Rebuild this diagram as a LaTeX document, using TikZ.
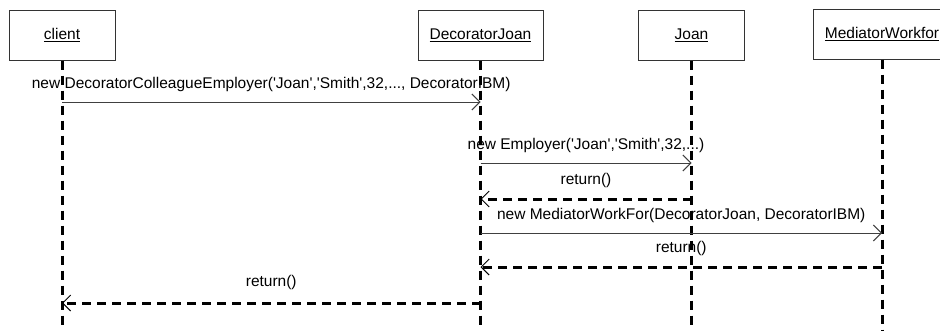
\documentclass[tikz,border=0pt]{standalone}
\usepackage{fontspec}
\setmainfont{Liberation Sans}
\usetikzlibrary{arrows.meta}
% straight apostrophe, bypassing the TeX quote mapping
\newcommand\sq{\XeTeXglyph\XeTeXcharglyph"27\relax}
\begin{document}
\begin{tikzpicture}[x=1pt,y=-1pt,
  every node/.style={font=\fontsize{15.5}{18}\selectfont},
  objbox/.style={draw=black!80, line width=1pt, minimum height=50pt,
    inner sep=0pt, fill=white},
  lifeline/.style={line width=3pt, dash pattern=on 9pt off 6pt},
  barb/.style={-{Straight Barb[length=8pt,width=16pt,line width=1pt]}},
  callmsg/.style={barb, draw=black!75, line width=1pt},
  retmsg/.style={barb, line width=3pt, dash pattern=on 9pt off 6pt},
  msglabel/.style={anchor=base, inner sep=0pt, yshift=14pt},
]
\useasboundingbox (0,0) rectangle (940,330);
\clip (0,0) rectangle (940,330);

% object boxes
\node[objbox, minimum width=106pt] (client) at (62,35)    {\underline{client}};
\node[objbox, minimum width=125pt] (dj)     at (480.5,35) {\underline{DecoratorJoan}};
\node[objbox, minimum width=106pt] (joan)   at (691.5,35) {\underline{Joan}};
\node[objbox, minimum width=138pt] (med)    at (882,34)   {\underline{MediatorWorkfor}};

% rows
\coordinate (bottom) at (0,330);
\coordinate (m1) at (0,102);
\coordinate (m2) at (0,163);
\coordinate (m3) at (0,199);
\coordinate (m4) at (0,233);
\coordinate (m5) at (0,267);
\coordinate (m6) at (0,303);

% lifelines
\foreach \o in {client,dj,joan,med}
  \draw[lifeline] (\o.south) -- (\o.south |- bottom);

% messages
\draw[callmsg] (client |- m1) --
  node[msglabel]{new DecoratorColleagueEmployer(\sq Joan\sq,\sq Smith\sq,32,..., DecoratorIBM)} (dj |- m1);
\draw[callmsg] (dj |- m2) --
  node[msglabel]{new Employer(\sq Joan\sq,\sq Smith\sq,32,...)} (joan |- m2);
\draw[retmsg] (joan |- m3) -- node[msglabel, yshift=1pt]{return()} (dj |- m3);
\draw[callmsg] (dj |- m4) --
  node[msglabel]{new MediatorWorkFor(DecoratorJoan, DecoratorIBM)} (med |- m4);
\draw[retmsg] (med |- m5) -- node[msglabel, yshift=1pt]{return()} (dj |- m5);
\draw[retmsg] (dj |- m6) -- node[msglabel, yshift=3pt]{return()} (client |- m6);
\end{tikzpicture}
\end{document}
